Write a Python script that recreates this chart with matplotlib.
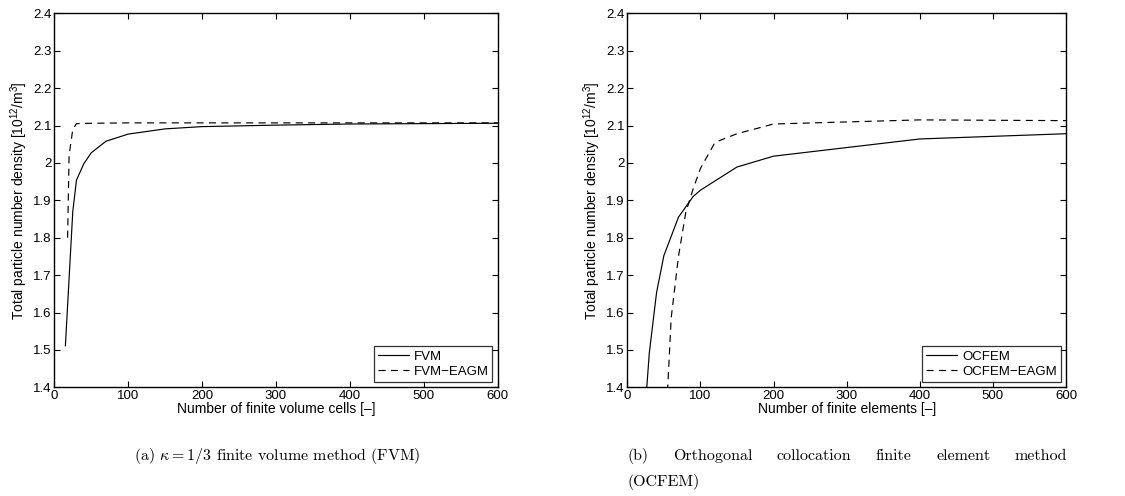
import matplotlib
matplotlib.use("Agg")
import matplotlib.pyplot as plt

# ---- data -------------------------------------------------------------
fvm_cells = [15, 25, 30, 40, 50, 70, 100, 150, 200, 300, 400, 500, 600]
fvm_density = [1.511, 1.870, 1.954, 1.998, 2.027, 2.058, 2.077, 2.091,
               2.097, 2.101, 2.104, 2.105, 2.106]

fvm_eagm_cells = [18, 20, 25, 30, 50, 100, 200, 300, 400, 500, 600]
fvm_eagm_density = [1.800, 2.020, 2.090, 2.105, 2.106, 2.107, 2.107,
                    2.107, 2.107, 2.107, 2.107]

ocfem_elems = [20, 30, 40, 50, 70, 90, 100, 150, 200, 400, 600]
ocfem_density = [1.220, 1.490, 1.653, 1.752, 1.855, 1.910, 1.927, 1.989,
                 2.018, 2.064, 2.078]

ocfem_eagm_elems = [50, 60, 70, 80, 90, 100, 120, 150, 200, 400, 600]
ocfem_eagm_density = [1.190, 1.585, 1.750, 1.868, 1.930, 1.985, 2.055,
                      2.078, 2.104, 2.115, 2.113]

x_ticks = [0, 100, 200, 300, 400, 500, 600]
y_ticks = [1.4, 1.5, 1.6, 1.7, 1.8, 1.9, 2.0, 2.1, 2.2, 2.3, 2.4]
y_ticklabels = ["1.4", "1.5", "1.6", "1.7", "1.8", "1.9", "2", "2.1",
                "2.2", "2.3", "2.4"]

ylabel = r"Total particle number density [10$^{12}$/m$^{3}$]"
xlabels = ["Number of finite volume cells [–]", "Number of finite elements [–]"]
legends = [["FVM", "FVM−EAGM"], ["OCFEM", "OCFEM−EAGM"]]

# ---- style ------------------------------------------------------------
plt.rcParams["font.family"] = ["Liberation Sans", "DejaVu Sans"]
plt.rcParams["mathtext.fontset"] = "custom"
plt.rcParams["mathtext.rm"] = "Liberation Sans"
plt.rcParams["mathtext.it"] = "Liberation Sans:italic"
plt.rcParams["mathtext.bf"] = "Liberation Sans:bold"

W, H, DPI = 1125, 496, 100
fig = plt.figure(figsize=(W / DPI, H / DPI), dpi=DPI)


def px_axes(x0, x1, ytop, ybot):
    return [x0 / W, (H - ybot) / H, (x1 - x0) / W, (ybot - ytop) / H]


ax_left = fig.add_axes(px_axes(54.3, 497.7, 13.3, 387.3))
ax_right = fig.add_axes(px_axes(627.3, 1066.0, 13.3, 387.3))

series = [
    (ax_left, fvm_cells, fvm_density, fvm_eagm_cells, fvm_eagm_density),
    (ax_right, ocfem_elems, ocfem_density, ocfem_eagm_elems, ocfem_eagm_density),
]

tick_fs = 9.5
label_fs = 10
for i, (ax, xs, ys, xd, yd) in enumerate(series):
    ax.plot(xs, ys, color="black", lw=0.85, label=legends[i][0])
    ax.plot(xd, yd, color="black", lw=0.85, dashes=(6, 4.5), label=legends[i][1])
    ax.set_xlim(0, 600)
    ax.set_ylim(1.4, 2.4)
    ax.set_xticks(x_ticks)
    ax.set_xticklabels([str(t) for t in x_ticks])
    ax.set_yticks(y_ticks)
    ax.set_yticklabels(y_ticklabels)
    ax.tick_params(direction="in", length=4, width=0.8, top=True, right=True,
                   labelsize=tick_fs, pad=2, colors="black")
    for s in ax.spines.values():
        s.set_linewidth(1.0)
    ax.set_xlabel(xlabels[i], fontsize=label_fs, labelpad=0)
    ax.set_ylabel(ylabel, fontsize=label_fs, labelpad=2)
    leg = ax.legend(loc="lower right", fontsize=tick_fs, frameon=True,
                    fancybox=False, borderaxespad=0.4, handlelength=2.35,
                    handletextpad=0.35, borderpad=0.3, labelspacing=0.25)
    leg.get_frame().set_edgecolor("black")
    leg.get_frame().set_linewidth(0.9)

# ---- captions ---------------------------------------------------------
cap_fs = 11.5
cap_font = ["cmr10", "DejaVu Serif"]
fig.text(277 / W, 1 - 456 / H, r"(a) $\kappa = 1/3$ finite volume method (FVM)",
         ha="center", va="center", fontsize=cap_fs, family=cap_font,
         math_fontfamily="cm")

words = ["(b)", "Orthogonal", "collocation", "finite", "element", "method"]
left_px, right_px = 627.3, 1067.0
word_texts = [fig.text(0, 1 - 456 / H, w, ha="left", va="center",
                       fontsize=cap_fs, family=cap_font) for w in words]
fig.canvas.draw()
renderer = fig.canvas.get_renderer()
widths = [t.get_window_extent(renderer).width for t in word_texts]
gap = (right_px - left_px - sum(widths)) / (len(words) - 1)
x = left_px
for t, w in zip(word_texts, widths):
    t.set_x(x / W)
    x += w + gap

fig.text(left_px / W, 1 - 482 / H, "(OCFEM)", ha="left", va="center",
         fontsize=cap_fs, family=cap_font)

fig.savefig("out.png", dpi=DPI)
